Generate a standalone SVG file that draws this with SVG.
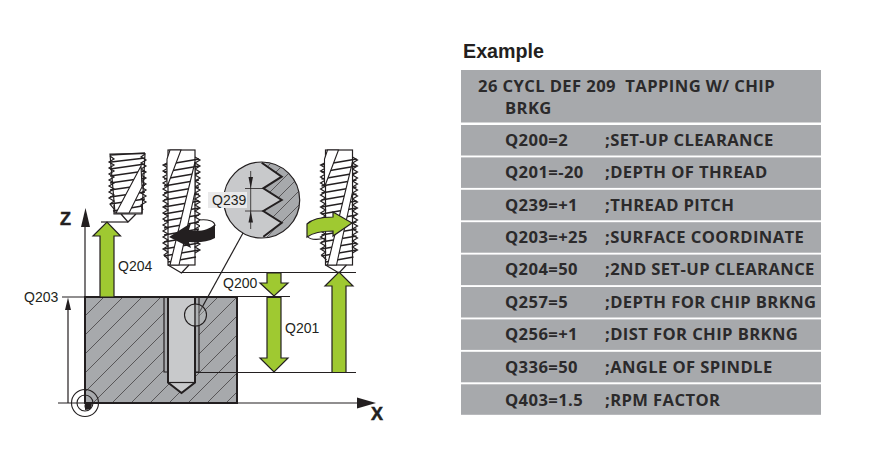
<svg xmlns="http://www.w3.org/2000/svg" width="874" height="459" viewBox="0 0 874 459">
<style>
.lbl{font:14px "Liberation Sans",Arial,sans-serif;fill:#231f20}
.ax{font:bold 18px "Liberation Sans",Arial,sans-serif;fill:#231f20;stroke:#231f20;stroke-width:.5}
.t{font:700 16.6px "Open Sans",sans-serif;fill:#2b2a2b;letter-spacing:.4px}
.band{fill:#a7a9ac}
.ln{stroke:#231f20;stroke-width:1.2;fill:none}
.thin{stroke:#231f20;stroke-width:.8;fill:none}
.thick{stroke:#231f20;stroke-width:2;fill:none}
.arr{fill:#9fc931;stroke:#231f20;stroke-width:1.2;stroke-linejoin:miter}
.blk{fill:#231f20}
</style>
<defs>
<pattern id="hatch" width="19" height="19" patternUnits="userSpaceOnUse" patternTransform="translate(2 0)">
<path d="M-2 21L21 -2M-2 2L2 -2M17 21L21 17" stroke="#231f20" stroke-width=".6" fill="none"/>
</pattern>
<pattern id="hatch2" width="14" height="14" patternUnits="userSpaceOnUse">
<path d="M-2 16L16 -2M-2 2L2 -2M12 16L16 12" stroke="#231f20" stroke-width=".6" fill="none"/>
</pattern>
<g id="tool">
<rect x="0" y="0" width="27" height="115" fill="#fff" class="ln"/>
<path class="ln" d="M0 115L13.500 123L21 115"/>
<polyline class="ln" points="1,12 -5,15 0,18 -5,21 0,24 -5,27 0,30 -5,33 0,36 -5,39 0,42 -5,45 0,48 -5,51 0,54 -5,57 0,60 -5,63 0,66 -5,69 0,72 -5,75 0,78 -5,81 0,84 -5,87 0,90 -5,93 0,96 -5,99 0,102 -4,105 1,110"/>
<polyline class="ln" points="27,7 32,10 27,13 32,16 27,19 32,22 27,25 32,28 27,31 32,34 27,37 32,40 27,43 32,46 27,49 32,52 27,55 32,58 27,61 32,64 27,67 32,70 27,73 32,76 27,79 32,82 27,85 32,88 27,91 32,94 27,97 32,100 27,103"/>
<path stroke="#231f20" stroke-width="1.350" fill="none" d="M-4 15L31 9M-4 22L31 16M-4 29L31 23M-4 36L31 30M-4 43L31 37M-4 50L31 44M-4 57L31 51M-4 64L31 58M-4 71L31 65M-4 78L31 72M-4 85L31 79M-4 92L31 86M-4 99L31 93M-4 106L31 100M0 112L28 107"/>
<path fill="#fff" stroke="#231f20" stroke-width="1.100" d="M2 0H13L-1 37V9Z"/>
<path fill="#fff" stroke="#231f20" stroke-width="1.100" d="M27 12L27 42L11 115H2Z"/>
</g>
</defs>

<g id="workpiece">
<rect x="85" y="297" width="152" height="106" fill="#a7a9ac"/>
<rect x="85" y="297" width="152" height="106" fill="url(#hatch)"/>
<rect x="164" y="297" width="35" height="75" fill="#a7a9ac"/>
<rect x="168" y="297" width="27" height="85.500" fill="#c8c9cb"/>
<path d="M168 382.500L181.500 393L195 382.500Z" fill="#c8c9cb"/>
<path class="thick" d="M168 297V382.500L181.500 393L195 382.500V297"/>
<path class="ln" d="M168 382.500H195"/>
<path class="ln" d="M164 297V372H168M195 372H199V297"/>
<rect x="85" y="297" width="152" height="106" fill="none" stroke="#231f20" stroke-width="2"/>
</g>

<g id="tool-retracted">
<path fill="#fff" stroke="#231f20" stroke-width="1.200" d="M110 154L145 153.500L142 213H115Z"/>
<polyline class="ln" points="110,156 114,159 109,162 114,165 109,168 114,171 109,174 114,177 109,180 114,183 109,186 114,189 109,192 114,195 109,198 114,201 110,204 114,209"/>
<polyline class="ln" points="145,154 141,157 146,160 141,163 146,166 141,169 146,172 141,175 146,178 141,181 146,184 141,187 146,190 141,193 146,196 141,199 146,202 141,205 143,210"/>
<path stroke="#231f20" stroke-width="1.350" fill="none" d="M110 155L145 153M111 162L145 158M110 169L145 164M110 176L145 171M110 183L145 178M110 190L145 185M110 197L145 192M110 204L145 199M113 211L142 206"/>
<path fill="#fff" stroke="#231f20" stroke-width="1.100" d="M141 166L142 187L129 213H116Z"/>
<path class="ln" d="M114 205V214H142V207M121 214L128 222L136 214"/>
</g>
<use id="tool-down" href="#tool" x="168" y="150"/>
<use id="tool-up" href="#tool" x="325.500" y="150"/>

<g id="connectors">
<path class="ln" d="M85 403V226"/>
<path class="blk" d="M85.500 208L90 227H81Z"/>
<path class="ln" d="M58 403H360"/>
<path class="blk" d="M376 403L357 397.500V408.500Z"/>
<path class="ln" d="M62 297H85M68 403V303"/>
<path class="blk" d="M68 297.500L71 310H65Z"/>
<path class="ln" d="M101 222H128"/>
<path class="ln" d="M180 272.500H356M237 296.500H290M195 372.500H356"/>
<path class="ln" d="M243 233L199 313"/>
</g>

<circle cx="195.500" cy="315" r="11" fill="#c8c9cb" fill-opacity=".3" stroke="#231f20" stroke-width="1.100" id="detail-mark"/>

<g id="origin">
<circle cx="85" cy="403" r="13.500" fill="none" stroke="#231f20" stroke-width="1.100"/>
<circle cx="85" cy="403" r="8" fill="none" stroke="#231f20" stroke-width="1.100"/>
<path class="blk" d="M85 403H92A7 7 0 0 1 85 410Z"/>
<circle cx="88" cy="406" r="3.500" class="blk"/>
</g>

<g id="arrow-q204"><path class="arr" d="M100 297V236H93L107 222L120.500 236H114V297Z"/></g>
<g id="arrow-q200"><path class="arr" d="M267 273V283H260L274 296L288 283H281V273Z"/></g>
<g id="arrow-q201"><path class="arr" d="M267 297.500V358H260L274 372L288 358H281V297.500Z"/></g>
<g id="arrow-up"><path class="arr" d="M332 372.500V286H325L339 272L353 286H346V372.500Z"/></g>

<g id="detail">
<circle cx="261.700" cy="200" r="38" fill="#c8c9cb"/>
<clipPath id="dc"><circle cx="261.700" cy="200" r="38"/></clipPath>
<g clip-path="url(#dc)">
<path d="M261.700 160L281.700 176.700L263.300 188.300L281.700 200L263.300 211L281.700 222.700L263.300 240H302V160Z" fill="#a7a9ac"/>
<path d="M261.700 160L281.700 176.700L263.300 188.300L281.700 200L263.300 211L281.700 222.700L263.300 240H302V160Z" fill="url(#hatch2)"/>
<path d="M261.700 162.700L281.700 176.700L263.300 188.300L281.700 200L263.300 211L281.700 222.700L263.300 236.700" fill="none" stroke="#231f20" stroke-width="2"/>
</g>
<circle cx="261.700" cy="200" r="38" fill="none" stroke="#231f20" stroke-width="1.200"/>
<path class="thin" d="M250.700 171V229M245 188.500H263M245 211H263"/>
<path class="blk" d="M250.700 188.500L248.500 177H253ZM250.700 211L248.500 222.500H253Z"/>
<rect x="208" y="192" width="39" height="16" fill="#e9e9ea"/>
<text class="lbl" x="212" y="204.500">Q239</text>
</g>

<g id="rotation-left">
<path d="M200 220C208 219 215 221 215 225V238C215 241 208 243 200 243Z" fill="#fff"/>
<path class="blk" d="M169 237L191 223L189 230C198 232 208 231 215 224V238C208 242 198 243 189 242L191 248Z"/>
<path class="ln" d="M199 220C208 219 215 221 215 226"/>
</g>
<g id="rotation-right">
<path class="arr" d="M352 223L333 212V217C322 217 312 219 307 224V237C314 232 324 231 333 231V236Z"/>
<path class="ln" d="M307 236C310 240 318 240 326 238"/>
</g>

<text class="ax" x="60" y="224.500">Z</text>
<text class="ax" x="371" y="420">X</text>
<text class="lbl" x="118" y="271">Q204</text>
<text class="lbl" x="24" y="302">Q203</text>
<text class="lbl" x="223" y="288">Q200</text>
<text class="lbl" x="285" y="333">Q201</text>

<g id="example-table">
<text x="463" y="57.500" style="font:bold 19.700px 'Liberation Sans',Arial,sans-serif;fill:#231f20">Example</text>
<rect class="band" x="461" y="70" width="360" height="52.500"/>
<rect class="band" x="461" y="125" width="360" height="30.500"/>
<rect class="band" x="461" y="157.400" width="360" height="30.500"/>
<rect class="band" x="461" y="189.800" width="360" height="30.500"/>
<rect class="band" x="461" y="222.200" width="360" height="30.500"/>
<rect class="band" x="461" y="254.600" width="360" height="30.500"/>
<rect class="band" x="461" y="287" width="360" height="30.500"/>
<rect class="band" x="461" y="319.400" width="360" height="30.500"/>
<rect class="band" x="461" y="351.800" width="360" height="30.500"/>
<rect class="band" x="461" y="384.300" width="360" height="30.500"/>
<text class="t" x="478" y="92" xml:space="preserve">26 CYCL DEF 209  TAPPING W/ CHIP</text>
<text class="t" x="505" y="114">BRKG</text>
<text class="t" x="505" y="146">Q200=2</text><text class="t" x="605" y="146">;SET-UP CLEARANCE</text>
<text class="t" x="505" y="178">Q201=-20</text><text class="t" x="605" y="178">;DEPTH OF THREAD</text>
<text class="t" x="505" y="211">Q239=+1</text><text class="t" x="605" y="211">;THREAD PITCH</text>
<text class="t" x="505" y="243">Q203=+25</text><text class="t" x="605" y="243">;SURFACE COORDINATE</text>
<text class="t" x="505" y="275">Q204=50</text><text class="t" x="605" y="275">;2ND SET-UP CLEARANCE</text>
<text class="t" x="505" y="308">Q257=5</text><text class="t" x="605" y="308">;DEPTH FOR CHIP BRKNG</text>
<text class="t" x="505" y="340">Q256=+1</text><text class="t" x="605" y="340">;DIST FOR CHIP BRKNG</text>
<text class="t" x="505" y="373">Q336=50</text><text class="t" x="605" y="373">;ANGLE OF SPINDLE</text>
<text class="t" x="505" y="406">Q403=1.5</text><text class="t" x="605" y="406">;RPM FACTOR</text>
</g>
</svg>
